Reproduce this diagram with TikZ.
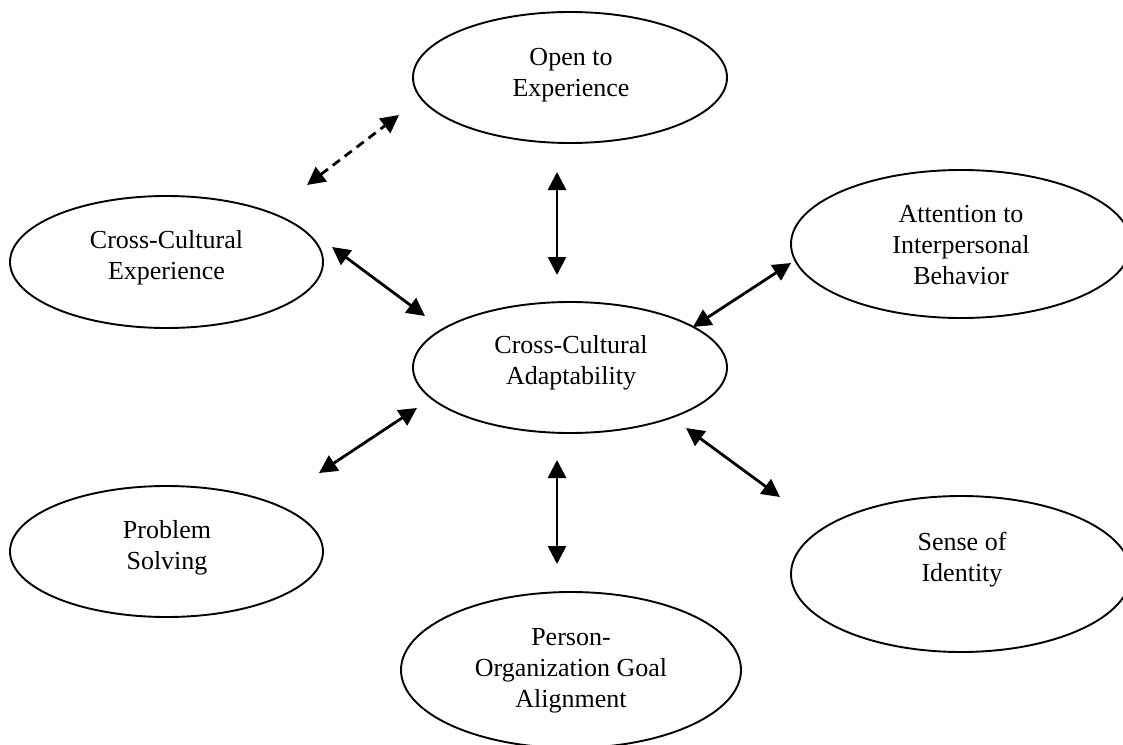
\documentclass[tikz,border=0pt]{standalone}
\usepackage{fontspec}
\setmainfont{Liberation Serif}
\usetikzlibrary{shapes.geometric,arrows.meta}
\begin{document}
\begin{tikzpicture}[x=1pt,y=-1pt,
  ell/.style={ellipse, draw, line width=1.9pt, inner sep=0pt, outer sep=0pt},
  lbl/.style={align=center, font=\fontsize{26}{31}\selectfont, inner sep=0pt},
  link/.style={line width=2.8pt, {Triangle[length=18pt,width=18pt]}-{Triangle[length=18pt,width=18pt]}},
  dlink/.style={link, dash pattern=on 9pt off 6pt}]
\useasboundingbox (0,0) rectangle (1123,744);
\clip (0,0) rectangle (1123,744);
% ellipses
\node[ell, minimum width=314pt, minimum height=131pt] (open)   at (570,77.5)  {};
\node[ell, minimum width=313pt, minimum height=132pt] (cce)    at (166.5,262) {};
\node[ell, minimum width=314pt, minimum height=131pt] (adapt)  at (570,367.5) {};
\node[ell, minimum width=340pt, minimum height=148pt] (att)    at (961,244)   {};
\node[ell, minimum width=313pt, minimum height=131pt] (ps)     at (166.5,551.5) {};
\node[ell, minimum width=340pt, minimum height=156pt] (sense)  at (961,574)   {};
\node[ell, minimum width=340pt, minimum height=156pt] (person) at (571,670)   {};
% labels
\node[lbl] (topen)   at (571,75)    {Open to\\Experience};
\node[lbl] (tcce)    at (166.5,257.5) {Cross-Cultural\\Experience};
\node[lbl] (tadapt)  at (571,363)   {Cross-Cultural\\Adaptability};
\node[lbl] (tatt)    at (961,245)   {Attention to\\Interpersonal\\Behavior};
\node[lbl] (tps)     at (167,547.5) {Problem\\Solving};
\node[lbl] (tsense)  at (962,559.5) {Sense of\\Identity};
\node[lbl] (tperson) at (571,671)   {Person-\\Organization Goal\\Alignment};
% arrow end points
\coordinate (d1) at (307,185);  \coordinate (d2) at (399,115);
\coordinate (v1a) at (557,172); \coordinate (v1b) at (557,275);
\coordinate (c1) at (332,247);  \coordinate (c2) at (425,316);
\coordinate (a1) at (791,263);  \coordinate (a2) at (693,327);
\coordinate (p1) at (319,473);  \coordinate (p2) at (417,408);
\coordinate (s1) at (686,428);  \coordinate (s2) at (780,497);
\coordinate (v2a) at (557,460); \coordinate (v2b) at (557,564);
% connectors
\draw[dlink] (d1) -- (d2);
\draw[link] (v1a) -- (v1b);
\draw[link] (c1) -- (c2);
\draw[link] (a1) -- (a2);
\draw[link] (p1) -- (p2);
\draw[link] (s1) -- (s2);
\draw[link] (v2a) -- (v2b);
\end{tikzpicture}
\end{document}
